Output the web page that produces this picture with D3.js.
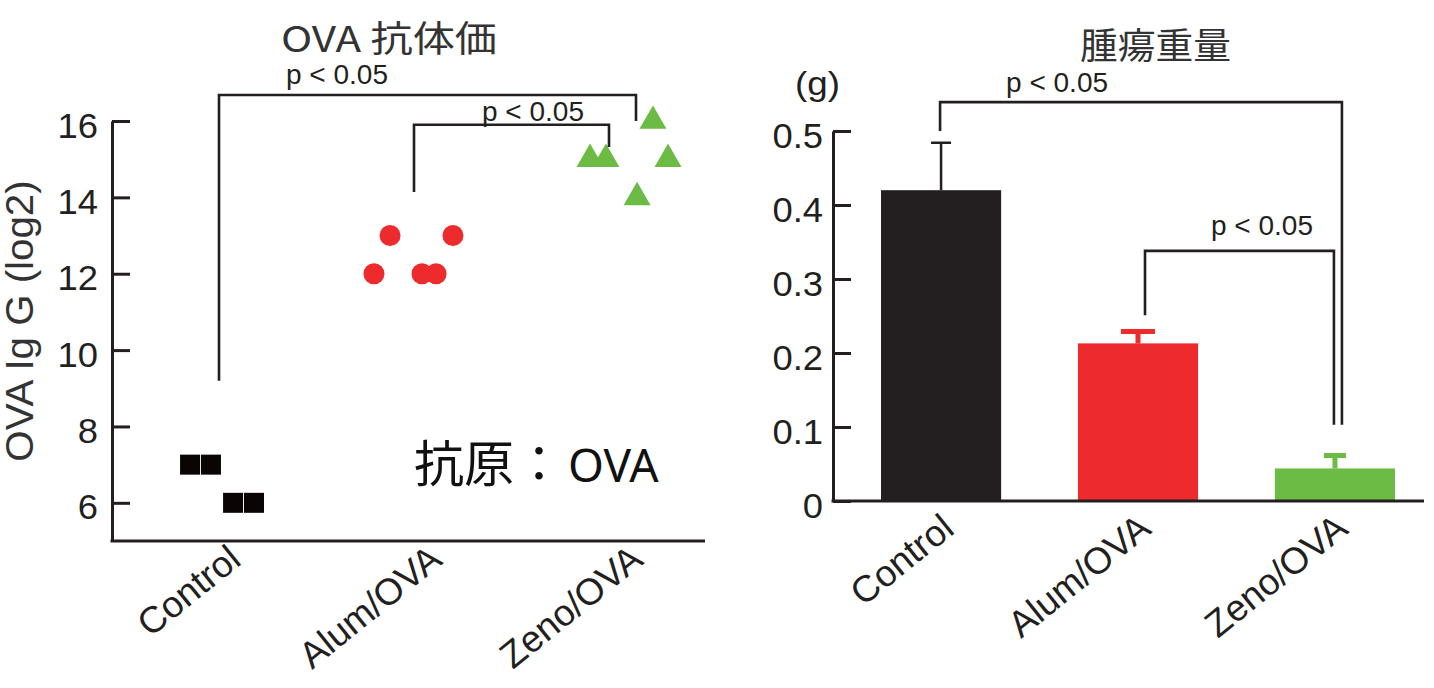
<!DOCTYPE html>
<html>
<head>
<meta charset="utf-8">
<script src="https://cdn.jsdelivr.net/npm/d3@7"></script>
<style>
body { margin: 0; background: #fff; }
svg { display: block; }
</style>
</head>
<body>
<div id="chart"></div>
<script>
var groups = ["Control", "Alum/OVA", "Zeno/OVA"];

// left panel: OVA IgG titre (log2), one value per animal
var controlTiter = [7, 7, 6, 6];
var alumTiter = [13, 13, 12, 12, 12];
var zenoTiter = [16, 15, 15, 15, 14];
// sideways spread of the dots, as a share of the group step
var controlJitter = [-0.144, -0.04, 0.07, 0.174];
var alumJitter = [-0.149, 0.164, -0.229, 0.01, 0.08];
var zenoJitter = [0.159, -0.154, -0.075, 0.234, 0.08];
var titerTicks = [6, 8, 10, 12, 14, 16];

// right panel: tumour weight (g), mean and error
var tumorMean = [0.42, 0.213, 0.044];
var tumorErr = [0.064, 0.016, 0.0175];
var weightTicks = [0, 0.1, 0.2, 0.3, 0.4, 0.5];

var colors = ["#231f20", "#ed2b2d", "#6cbb45"];
var ink = "#231f20";

var svg = d3.select("#chart").append("svg")
    .attr("width", 1434)
    .attr("height", 688);

function stretch(sel, k) {
    sel.each(function() {
        var w = this.getComputedTextLength();
        d3.select(this).attr("textLength", w * k).attr("lengthAdjust", "spacingAndGlyphs");
    });
}

function bracket(g, x1, y1, x2, y2, top) {
    g.append("path")
        .attr("d", "M" + x1 + "," + y1 + "V" + top + "H" + x2 + "V" + y2)
        .attr("fill", "none")
        .attr("stroke", ink)
        .attr("stroke-width", 2.6);
}

function pLabel(g, x, y) {
    g.append("text")
        .attr("x", x)
        .attr("y", y)
        .attr("font-family", "Liberation Sans, Arial, sans-serif")
        .attr("font-size", 28)
        .attr("fill", ink)
        .text("p < 0.05");
}

function styleAxis(g) {
    g.select(".domain").attr("stroke", ink).attr("stroke-width", 3);
    g.selectAll(".tick line").attr("stroke", ink).attr("stroke-width", 3);
    g.selectAll(".tick text")
        .attr("font-family", "Liberation Sans, Arial, sans-serif")
        .attr("font-size", 35)
        .attr("dy", "0.46em")
        .attr("fill", ink);
    stretch(g.selectAll(".tick text"), 1.04);
}

// ---------- left panel ----------
var yL = d3.scaleLinear().domain([5, 16]).range([541, 121]);
var xL = d3.scalePoint().domain(groups).range([219, 621]);
var stepL = xL.step();

var left = svg.append("g");

left.append("g")
    .attr("transform", "translate(112,0)")
    .call(d3.axisLeft(yL).tickValues(titerTicks).tickSize(-18).tickSizeOuter(0).tickPadding(14))
    .call(styleAxis);

left.append("line")
    .attr("x1", 110.5).attr("x2", 705)
    .attr("y1", yL(5)).attr("y2", yL(5))
    .attr("stroke", ink).attr("stroke-width", 3);

var titers = [controlTiter, alumTiter, zenoTiter];
var jitters = [controlJitter, alumJitter, zenoJitter];
var shapes = [d3.symbolSquare, d3.symbolCircle, d3.symbolTriangle];
var shapeSize = [400, 346, 316];
var points = [];
groups.forEach(function(grp, i) {
    titers[i].forEach(function(v, j) {
        points.push({group: grp, gi: i, value: v, jitter: jitters[i][j]});
    });
});

left.selectAll(".dot")
    .data(points)
    .enter().append("path")
    .attr("class", "dot")
    .attr("transform", d => "translate(" + (xL(d.group) + d.jitter * stepL) + "," + yL(d.value) + ")")
    .attr("d", d => d3.symbol(shapes[d.gi], shapeSize[d.gi])())
    .attr("fill", d => d.gi === 0 ? "#0b0405" : colors[d.gi]);

left.selectAll(".xlab")
    .data(groups)
    .enter().append("text")
    .attr("class", "xlab")
    .attr("transform", d => "translate(" + (xL(d) + 24) + ",563) rotate(-39)")
    .attr("text-anchor", "end")
    .attr("font-family", "Liberation Sans, Arial, sans-serif")
    .attr("font-size", 37)
    .attr("fill", ink)
    .text(d => d);

left.append("text")
    .attr("transform", "translate(33,321) rotate(-90)")
    .attr("text-anchor", "middle")
    .attr("font-family", "Liberation Sans, Arial, sans-serif")
    .attr("font-size", 38)
    .attr("fill", "#333")
    .text("OVA Ig G (log2)")
    .call(stretch, 1.06);

left.append("text")
    .attr("x", 281).attr("y", 52)
    .attr("font-family", "Noto Sans CJK JP, sans-serif")
    .attr("font-size", 36)
    .attr("fill", "#333")
    .attr("textLength", 216).attr("lengthAdjust", "spacingAndGlyphs")
    .text("OVA 抗体価");

bracket(left, xL("Control"), yL(9.2), xL("Zeno/OVA") + 15, yL(16), yL(16.68));
pLabel(left, xL("Control") + 67, yL(16.68) - 11);
bracket(left, xL("Alum/OVA") - 6, yL(14.14), xL("Zeno/OVA") - 12, yL(15.32), yL(15.9));
pLabel(left, xL("Alum/OVA") + 62, yL(15.9) - 4);

var note = left.append("text")
    .attr("x", 414).attr("y", 482)
    .attr("fill", "#111");
note.append("tspan")
    .attr("font-family", "Noto Sans CJK JP, sans-serif")
    .attr("font-size", 50)
    .text("抗原：");
note.append("tspan")
    .attr("dx", 4)
    .attr("font-family", "Noto Sans, sans-serif")
    .attr("font-size", 46)
    .text("OVA");

// ---------- right panel ----------
var yR = d3.scaleLinear().domain([0, 0.5]).range([501, 131]);
var xR = d3.scaleBand().domain(groups).range([881, 1395]).paddingInner(0.39);
var bw = xR.bandwidth();

var right = svg.append("g");

right.append("g")
    .attr("transform", "translate(833,0)")
    .call(d3.axisLeft(yR).tickValues(weightTicks).tickFormat(d3.format("~g")).tickSize(-18).tickSizeOuter(0).tickPadding(10))
    .call(styleAxis);

var bars = groups.map((g, i) => ({group: g, mean: tumorMean[i], err: tumorErr[i], color: colors[i], i: i}));
var errWidth = [2.5, 5, 5];
var capWidth = [20, 34, 22];

right.selectAll(".bar")
    .data(bars)
    .enter().append("rect")
    .attr("class", "bar")
    .attr("x", d => xR(d.group))
    .attr("y", d => yR(d.mean))
    .attr("width", bw)
    .attr("height", d => yR(0) - yR(d.mean))
    .attr("fill", d => d.color);

right.selectAll(".err")
    .data(bars)
    .enter().append("path")
    .attr("class", "err")
    .attr("d", function(d) {
        var cx = xR(d.group) + bw / 2;
        var top = yR(d.mean + d.err);
        return "M" + cx + "," + yR(d.mean) + "V" + top +
            "M" + (cx - capWidth[d.i] / 2) + "," + top + "H" + (cx + capWidth[d.i] / 2);
    })
    .attr("fill", "none")
    .attr("stroke", d => d.color)
    .attr("stroke-width", d => errWidth[d.i]);

right.append("line")
    .attr("x1", 831.5).attr("x2", 1424)
    .attr("y1", yR(0)).attr("y2", yR(0))
    .attr("stroke", ink).attr("stroke-width", 3);

right.selectAll(".xlab")
    .data(groups)
    .enter().append("text")
    .attr("class", "xlab")
    .attr("transform", d => "translate(" + (xR(d) + bw / 2 + 15) + ",532) rotate(-39)")
    .attr("text-anchor", "end")
    .attr("font-family", "Liberation Sans, Arial, sans-serif")
    .attr("font-size", 37)
    .attr("fill", ink)
    .text(d => d);

right.append("text")
    .attr("x", 1080).attr("y", 59)
    .attr("font-family", "Noto Sans CJK JP, sans-serif")
    .attr("font-size", 36)
    .attr("fill", "#333")
    .attr("textLength", 151).attr("lengthAdjust", "spacingAndGlyphs")
    .text("腫瘍重量");

right.append("text")
    .attr("x", 795).attr("y", 95)
    .attr("font-family", "Liberation Sans, Arial, sans-serif")
    .attr("font-size", 34)
    .attr("fill", ink)
    .text("(g)")
    .call(stretch, 1.08);

var cR = g => xR(g) + bw / 2;
bracket(right, cR("Control") - 1, yR(0.5), cR("Zeno/OVA") + 7, yR(0.103), yR(0.539));
pLabel(right, cR("Control") + 65, yR(0.539) - 10);
bracket(right, cR("Alum/OVA") + 7, yR(0.251), cR("Zeno/OVA") - 1, yR(0.103), yR(0.338));
pLabel(right, cR("Alum/OVA") + 73, yR(0.338) - 16);
</script>
</body>
</html>
